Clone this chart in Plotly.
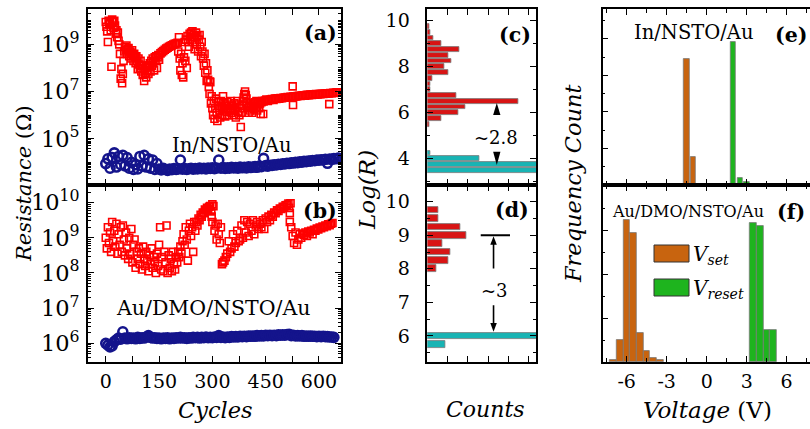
import plotly.graph_objects as go

FONT = "DejaVu Serif"

# ---------------- panel (a): In/NSTO/Au resistance vs cycles ----------------
hrs_a_cycles = [0, 2, 4, 6, 8, 10, 12, 14, 16, 18, 20, 22, 24, 26, 28, 30, 32, 34, 36, 38,
                40, 42, 44, 46, 48, 50, 52, 54, 56, 58, 60, 62, 64, 66, 68, 70, 72, 74, 76, 78,
                80, 82, 84, 86, 88, 90, 92, 94, 96, 98, 100, 102, 104, 106, 108, 110, 112, 114, 116, 118,
                120, 122, 124, 126, 128, 130, 132, 134, 136, 138, 140, 142, 144, 146, 148, 150,
                154, 158, 162, 166, 170, 174, 178, 182, 186, 190, 194, 198, 202,
                204, 206, 208, 210, 212, 214, 216, 218, 220, 222, 224, 226, 228, 230, 232, 234, 236, 238,
                240, 242, 244, 246, 248, 250, 252, 254, 256, 258, 260, 262, 264, 266, 268, 270, 272, 274,
                276, 278, 280, 282, 284, 286, 288, 290, 292, 294, 296, 298, 300, 302, 304, 306, 308, 310,
                312, 314, 316, 318, 320, 322, 324, 326, 328, 330, 332, 334, 336, 338, 340, 342, 344, 346,
                348, 350, 352, 354, 356, 358, 360, 362, 364, 366, 368, 370, 372, 374, 376, 378, 380, 382,
                384, 386, 388, 390, 392, 394, 396, 398, 400, 402, 404, 406, 408, 410, 412, 414, 416, 418,
                420, 422, 424, 426, 428, 430, 432, 434, 436, 438, 440,
                444, 448, 452, 456, 460, 464, 468, 472, 476, 480, 484, 488, 492, 496, 500, 504, 508, 512,
                516, 520, 524, 528, 532, 536, 540, 544, 548, 552, 556, 560, 564, 568, 572, 576, 580, 584,
                588, 592, 596, 600, 604, 608, 612, 616, 620, 624, 628, 632, 636, 640, 644, 648, 652,
                526, 527, 629, 443, 293]
hrs_a_log = [9.95, 9.75, 9.55, 9.1, 10.0, 9.85, 9.9, 9.6, 8.05, 10.05, 9.95, 9.7, 10.0, 9.8, 9.45, 9.6, 9.3, 9.5, 9.15, 9.0,
             8.6, 7.55, 7.95, 7.35, 7.75, 8.3, 8.7, 8.9, 8.75, 8.95, 8.6, 8.8, 8.85, 8.5, 8.7, 8.65, 8.4, 8.75, 8.55, 8.3,
             8.6, 8.45, 8.2, 8.5, 8.3, 7.95, 8.4, 8.15, 8.0, 8.3, 7.85, 8.1, 7.7, 7.95, 7.45, 7.8, 8.0, 7.6, 7.9, 8.1,
             7.75, 8.05, 8.2, 7.85, 8.3, 8.1, 8.4, 8.25, 7.9, 8.45, 8.3, 8.5, 8.0, 8.45, 8.55, 8.35,
             8.62, 8.67, 8.72, 8.77, 8.82, 8.86, 8.9, 8.93, 8.96, 8.99, 9.02, 9.04, 9.07,
             8.7, 9.3, 8.4, 7.9, 8.6, 7.7, 8.2, 7.6, 8.45, 9.1, 8.3, 9.2, 8.0, 9.35, 9.1, 8.9, 9.45, 9.2,
             9.5, 9.3, 9.55, 9.1, 9.4, 8.8, 9.3, 9.5, 9.0, 9.35, 8.7, 9.2, 9.4, 8.9, 8.5, 9.1, 8.7, 8.4,
             8.1, 8.6, 7.8, 8.2, 7.45, 7.9, 7.5, 7.2, 6.9, 7.4, 6.5, 6.8, 6.3, 6.0, 6.6, 5.85, 6.3, 6.7,
             6.1, 5.75, 6.4, 6.55, 6.2, 5.9, 6.6, 6.35, 6.0, 6.8, 6.25, 6.5, 5.95, 6.4, 6.15, 6.55, 6.3, 6.0,
             6.45, 6.2, 6.6, 6.1, 6.4, 6.25, 6.0, 6.5, 6.2, 5.9, 6.35, 6.6, 6.15, 6.45, 6.0, 6.3, 5.5, 6.1,
             6.4, 6.6, 6.75, 6.9, 7.0, 6.85, 6.7, 6.5, 6.3, 6.1, 6.35, 6.2, 6.45, 6.3, 6.1, 6.4, 6.5, 6.25,
             6.55, 6.35, 6.6, 6.2, 6.45, 6.55, 6.3, 6.5, 6.05, 6.55, 6.6,
             6.58, 6.62, 6.66, 6.6, 6.64, 6.66, 6.68, 6.65, 6.7, 6.69, 6.71, 6.7, 6.73, 6.72, 6.74, 6.75, 6.74, 6.77,
             6.76, 6.78, 6.77, 6.79, 6.8, 6.79, 6.81, 6.82, 6.81, 6.83, 6.84, 6.83, 6.85, 6.86, 6.85, 6.87, 6.86, 6.88,
             6.87, 6.89, 6.88, 6.9, 6.89, 6.91, 6.9, 6.92, 6.91, 6.93, 6.92, 6.94, 6.93, 6.95, 6.94, 6.96, 6.97,
             7.22, 6.43, 6.47, 6.05, 7.42]

lrs_a_cycles = [0, 6, 12, 18, 24, 30, 36, 42, 48, 54, 60, 66, 72, 78, 84, 90, 96, 102, 108, 114,
                120, 126, 132, 138, 144, 150, 156, 162, 168, 174, 180, 186, 192, 198, 204, 210, 216, 222, 228, 234,
                240, 246, 252, 258, 264, 270, 276, 282, 288, 294, 300, 306, 312, 318, 324, 330, 336, 342, 348, 354,
                360, 366, 372, 378, 384, 390, 396, 402, 408, 414, 420, 426, 432, 438, 444, 450, 456, 462, 468, 474,
                480, 486, 492, 498, 504, 510, 516, 522, 528, 534, 540, 546, 552, 558, 564, 570, 576, 582, 588, 594,
                600, 606, 612, 618, 624, 630, 636, 642, 648, 654]
lrs_a_log = [3.95, 4.15, 3.75, 4.2, 4.4, 3.8, 4.25, 3.9, 4.3, 3.85, 4.2, 3.75, 4.0, 3.7, 3.9, 3.72, 4.25, 3.85, 4.3, 3.8,
             4.15, 3.75, 4.1, 3.7, 3.95, 3.72, 3.68, 3.75, 3.7, 3.66, 3.72, 3.69, 3.74, 3.7, 3.72, 4.1, 3.71, 3.74, 3.7, 3.73,
             3.75, 3.71, 3.74, 3.72, 3.76, 3.73, 3.75, 3.72, 3.76, 3.74, 3.77, 3.73, 3.76, 4.1, 3.75, 3.78, 3.74, 3.77, 3.75, 3.79,
             3.76, 3.78, 3.75, 3.8, 3.77, 3.79, 3.76, 3.81, 3.78, 3.8, 3.82, 3.79, 3.84, 3.82, 4.17, 3.86, 3.84, 3.88, 3.87, 3.9,
             3.89, 3.92, 3.91, 3.94, 3.93, 3.96, 3.95, 3.98, 3.97, 4.0, 3.99, 4.02, 4.01, 4.04, 4.03, 4.06, 4.05, 4.08, 4.07, 4.1,
             4.09, 4.11, 4.1, 4.13, 3.96, 4.14, 4.13, 4.16, 4.15, 4.18]

# ---------------- panel (b): Au/DMO/NSTO/Au resistance vs cycles ----------------
hrs_b_cycles = [0, 3, 6, 9, 12, 15, 18, 21, 24, 27, 30, 33, 36, 39, 42, 45, 48, 51, 54, 57,
                60, 63, 66, 69, 72, 75, 78, 81, 84, 87, 90, 93, 96, 99, 102, 105, 108, 111, 114, 117,
                120, 123, 126, 129, 132, 135, 138, 141, 144, 147, 150, 153, 156, 159, 162, 165, 168, 171, 174, 177,
                180, 183, 186, 189, 192, 195, 198, 201, 204, 207, 210, 213, 216, 219, 222, 225, 228, 231, 234, 237,
                240, 243, 246, 249, 252, 255, 258, 261, 264, 267, 270, 273, 276, 279, 282, 285, 288, 291, 294, 297,
                300, 303, 306, 309, 312, 315, 318, 321, 324, 327, 330,
                334, 338, 342, 346, 350, 354, 358, 362, 366, 370, 374, 378, 382, 386, 390, 394, 398, 402, 406, 410,
                414, 418, 422, 426, 430, 434, 438, 442, 446, 450, 454, 458, 462, 466, 470, 474, 478, 482, 486, 490,
                494, 498, 502, 506, 510, 514, 518, 522, 526, 530, 534, 538, 542, 546, 550, 554, 558, 562, 566, 570,
                574, 578, 582, 586, 590, 594, 598, 602, 606, 610, 614, 618, 622, 626, 630, 634, 638,
                516, 518, 520, 298, 300]
hrs_b_log = [9.0, 8.7, 9.3, 8.85, 9.15, 8.6, 9.45, 8.9, 9.2, 8.75, 9.4, 8.55, 9.1, 8.8, 9.3, 8.6, 9.35, 8.95, 8.5, 9.15,
             8.7, 8.4, 9.0, 8.55, 9.25, 8.3, 8.8, 8.95, 8.15, 8.6, 8.4, 8.7, 8.25, 8.55, 8.1, 8.75, 8.4, 8.2, 8.6, 8.35,
             8.05, 8.5, 8.25, 8.7, 8.15, 8.45, 8.3, 8.0, 8.55, 8.2, 8.8, 9.3, 8.1, 8.45, 8.05, 8.6, 8.3, 9.35, 8.0, 8.5,
             8.15, 8.4, 8.05, 8.6, 8.25, 8.1, 8.45, 8.3, 8.6, 8.45, 8.75, 8.55, 8.9, 9.1, 8.8, 9.3, 8.95, 8.35, 9.2, 9.4,
             9.05, 9.3, 8.6, 9.45, 9.2, 9.45, 9.35, 9.55, 9.5, 9.65, 9.6, 9.72, 9.7, 9.8, 9.78, 9.85, 9.83, 9.88, 9.9, 9.75,
             9.45, 9.9, 9.2, 9.35, 8.95, 9.4, 9.1, 8.85, 9.3, 8.25, 8.3,
             8.35, 8.45, 8.55, 8.9, 8.6, 8.7, 9.1, 8.75, 8.85, 9.2, 8.9, 8.95, 9.35, 9.0, 9.5, 9.15, 9.45, 9.05, 9.4, 9.2,
             9.5, 9.1, 9.35, 9.45, 9.25, 9.4, 9.3, 9.5, 9.25, 9.55, 9.45, 9.6, 9.5, 9.65, 9.6, 9.72, 9.7, 9.78, 9.76, 9.83,
             9.82, 9.88, 9.87, 9.92, 9.93, 9.97, 9.7, 9.3, 9.05, 8.85, 9.15, 8.8, 8.95, 9.1, 9.0, 9.12, 9.08, 9.15, 9.05, 9.18,
             9.15, 9.2, 9.1, 9.23, 9.2, 9.26, 9.24, 9.29, 9.27, 9.32, 9.3, 9.35, 9.33, 9.38, 9.36, 9.4, 9.42,
             9.85, 9.45, 9.98, 9.6, 9.95]

lrs_b_cycles = [0, 6, 12, 18, 24, 30, 36, 42, 48, 54, 60, 66, 72, 78, 84, 90, 96, 102, 108, 114,
                120, 126, 132, 138, 144, 150, 156, 162, 168, 174, 180, 186, 192, 198, 204, 210, 216, 222, 228, 234,
                240, 246, 252, 258, 264, 270, 276, 282, 288, 294, 300, 306, 312, 318, 324, 330, 336, 342, 348, 354,
                360, 366, 372, 378, 384, 390, 396, 402, 408, 414, 420, 426, 432, 438, 444, 450, 456, 462, 468, 474,
                480, 486, 492, 498, 504, 510, 516, 522, 528, 534, 540, 546, 552, 558, 564, 570, 576, 582, 588, 594,
                600, 606, 612, 618, 624, 630, 636, 642]
lrs_b_log = [6.0, 5.95, 5.9, 5.93, 6.05, 6.1, 6.15, 6.12, 6.33, 6.15, 6.13, 6.16, 6.14, 6.15, 6.13, 6.17, 6.14, 6.16, 6.15, 6.18,
             6.22, 6.17, 6.15, 6.16, 6.14, 6.15, 6.13, 6.15, 6.14, 6.16, 6.13, 6.15, 6.14, 6.16, 6.15, 6.17, 6.15, 6.16, 6.14, 6.16,
             6.15, 6.17, 6.16, 6.17, 6.15, 6.17, 6.16, 6.18, 6.16, 6.17, 6.16, 6.18, 6.17, 6.22, 6.17, 6.18, 6.16, 6.18, 6.17, 6.19,
             6.18, 6.19, 6.18, 6.2, 6.19, 6.2, 6.19, 6.21, 6.2, 6.21, 6.2, 6.22, 6.21, 6.22, 6.21, 6.23, 6.22, 6.23, 6.22, 6.23,
             6.22, 6.24, 6.23, 6.24, 6.23, 6.25, 6.26, 6.22, 6.23, 6.21, 6.22, 6.21, 6.22, 6.2, 6.21, 6.2, 6.21, 6.2, 6.2, 6.19,
             6.2, 6.19, 6.2, 6.19, 6.19, 6.18, 6.18, 6.17]

for a, b in [(hrs_a_cycles, hrs_a_log), (lrs_a_cycles, lrs_a_log), (hrs_b_cycles, hrs_b_log), (lrs_b_cycles, lrs_b_log)]:
    assert len(a) == len(b), (len(a), len(b))

# ---------------- panels (c), (d): Log(R) histograms ----------------
c_hrs_bins = [9.75, 9.5, 9.25, 9.0, 8.75, 8.5, 8.25, 8.0, 7.75, 7.5, 7.25, 7.0, 6.75, 6.5, 6.25, 6.0, 5.75, 5.5]
c_hrs_counts = [1.0, 1.3, 3.0, 7.1, 15.8, 10.5, 11.8, 8.5, 10.5, 2.3, 1.6, 1.3, 14.4, 44.7, 18.7, 15.4, 6.9, 1.0]
c_lrs_bins = [4.25, 4.0, 3.75, 3.5]
c_lrs_counts = [1.3, 25.6, 80.0, 80.0]

d_hrs_bins = [9.75, 9.5, 9.25, 9.0, 8.75, 8.5, 8.25, 8.0]
d_hrs_counts = [5.4, 5.4, 16.3, 19.4, 7.2, 11.5, 10.5, 4.6]
d_lrs_bins = [6.0, 5.75]
d_lrs_counts = [80.0, 9.0]

# ---------------- panels (e), (f): switching-voltage histograms ----------------
e_set_v = [-1.5, -1.0]
e_set_n = [69.0, 15.2]
e_reset_v = [1.5, 2.0, 2.5, 3.0]
e_reset_n = [0.7, 78.4, 3.8, 1.6]

f_set_v = [-7.0, -6.5, -6.0, -5.5, -5.0, -4.5, -4.0, -3.5]
f_set_n = [0.4, 4.9, 32.4, 29.3, 6.5, 2.4, 0.8, 0.4]
f_reset_v = [3.5, 4.0, 4.5, 5.0]
f_reset_n = [31.6, 30.9, 7.2, 7.2]

volt_tick_vals = [-6, -3, 0, 3, 6]
volt_tick_text = ["-6", "-3", "0", "3", "6"]

# ---------------- colours ----------------
RED = "#ff0000"
NAVY = "#14148c"
HIST_RED = "#d81414"
HIST_CYAN = "#18b4b4"
ORANGE = "#c8640f"
GREEN = "#1eb41e"
BAR_EDGE = "#7a7a7a"

W, H = 810, 429
def fx(p):
    return p / W
def fy(p):
    return 1 - p / H

fig = go.Figure()

fig.add_trace(go.Scatter(x=hrs_a_cycles, y=[10 ** v for v in hrs_a_log], mode="markers",
                         marker=dict(symbol="square-open", size=7, color=RED, line=dict(width=1.6)),
                         xaxis="x", yaxis="y"))
fig.add_trace(go.Scatter(x=lrs_a_cycles, y=[10 ** v for v in lrs_a_log], mode="markers",
                         marker=dict(symbol="circle-open", size=9, color=NAVY, line=dict(width=2.6)),
                         xaxis="x", yaxis="y"))
fig.add_trace(go.Scatter(x=hrs_b_cycles, y=[10 ** v for v in hrs_b_log], mode="markers",
                         marker=dict(symbol="square-open", size=7, color=RED, line=dict(width=1.6)),
                         xaxis="x2", yaxis="y2"))
fig.add_trace(go.Scatter(x=lrs_b_cycles, y=[10 ** v for v in lrs_b_log], mode="markers",
                         marker=dict(symbol="circle-open", size=9, color=NAVY, line=dict(width=2.6)),
                         xaxis="x2", yaxis="y2"))

def hbar(counts, bins, color, xa, ya, width):
    return go.Bar(x=counts, y=bins, orientation="h", width=width, xaxis=xa, yaxis=ya,
                  marker=dict(color=color, line=dict(color=BAR_EDGE, width=0.8)))

fig.add_trace(hbar(c_hrs_counts, c_hrs_bins, HIST_RED, "x3", "y3", 0.21))
fig.add_trace(hbar(c_lrs_counts, c_lrs_bins, HIST_CYAN, "x3", "y3", 0.21))
fig.add_trace(hbar(d_hrs_counts, d_hrs_bins, HIST_RED, "x4", "y4", 0.2))
fig.add_trace(hbar(d_lrs_counts, d_lrs_bins, HIST_CYAN, "x4", "y4", 0.2))

def vbar(v, n, color, xa, ya, width):
    return go.Bar(x=v, y=n, width=width, xaxis=xa, yaxis=ya,
                  marker=dict(color=color, line=dict(color=BAR_EDGE, width=0.8)))

fig.add_trace(vbar(e_set_v, e_set_n, ORANGE, "x5", "y5", 0.42))
fig.add_trace(vbar(e_reset_v, e_reset_n, GREEN, "x5", "y5", 0.42))
fig.add_trace(vbar(f_set_v, f_set_n, ORANGE, "x6", "y6", 0.5))
fig.add_trace(vbar(f_reset_v, f_reset_n, GREEN, "x6", "y6", 0.5))

common = dict(showline=True, linecolor="black", linewidth=1.5, mirror="ticks", ticks="inside",
              ticklen=6, tickwidth=1.2, tickcolor="black", showgrid=False, zeroline=False,
              tickfont=dict(family=FONT, size=19, color="black"))

top = [fy(185), fy(9)]
bot = [fy(362), fy(185)]
dom_ab = [fx(88), fx(341)]
dom_cd = [fx(427.3), fx(536)]
dom_ef = [fx(602.7), 1.0]

cyc_minor = dict(ticks="inside", ticklen=6, dtick=75, tickcolor="black")

layout_axes = dict(
    xaxis=dict(common, domain=dom_ab, anchor="y", range=[-50, 662], dtick=150, tick0=0,
               showticklabels=False, minor=cyc_minor),
    xaxis2=dict(common, domain=dom_ab, anchor="y2", range=[-50, 662], dtick=150, tick0=0,
                ticklabelstandoff=1, minor=cyc_minor),
    yaxis=dict(common, domain=top, anchor="x", type="log", range=[3.04, 10.5], tick0=1, dtick=2,
               exponentformat="power", ticklabelstandoff=3, tickfont=dict(family=FONT, size=18, color="black"),
               minor=dict(ticks="inside", ticklen=3, dtick="D1", tickcolor="black")),
    yaxis2=dict(common, domain=bot, anchor="x2", type="log", range=[5.47, 10.5], dtick=1,
                exponentformat="power", ticklabelstandoff=3, tickfont=dict(family=FONT, size=18, color="black"),
                minor=dict(ticks="inside", ticklen=3, dtick="D1", tickcolor="black")),
    xaxis3=dict(common, domain=dom_cd, anchor="y3", range=[0, 53.5], dtick=10, showticklabels=False),
    yaxis3=dict(common, domain=top, anchor="x3", range=[2.86, 10.51], dtick=2, tick0=0,
                ticklabelstandoff=12, minor=dict(ticks="inside", ticklen=3, dtick=1, tickcolor="black")),
    xaxis4=dict(common, domain=dom_cd, anchor="y4", range=[0, 53.5], dtick=10, showticklabels=False),
    yaxis4=dict(common, domain=bot, anchor="x4", range=[5.22, 10.5], dtick=1, tick0=0,
                ticklabelstandoff=12, minor=dict(ticks="inside", ticklen=3, dtick=0.5, tickcolor="black")),
    xaxis5=dict(common, domain=dom_ef, anchor="y5", range=[-7.8, 7.75], tickvals=volt_tick_vals,
                showticklabels=False, minor=dict(ticks="inside", ticklen=4, dtick=1.5, tickcolor="black")),
    yaxis5=dict(common, domain=top, anchor="x5", range=[0, 96.4], dtick=20, mirror=False,
                showticklabels=False, minor=dict(ticks="inside", ticklen=3, dtick=10, tickcolor="black")),
    xaxis6=dict(common, domain=dom_ef, anchor="y6", range=[-7.8, 7.75], tickvals=volt_tick_vals,
                ticktext=volt_tick_text, ticklabelstandoff=1,
                minor=dict(ticks="inside", ticklen=4, dtick=1.5, tickcolor="black")),
    yaxis6=dict(common, domain=bot, anchor="x6", range=[0, 40.25], dtick=10, mirror=False,
                showticklabels=False, minor=dict(ticks="inside", ticklen=3, dtick=5, tickcolor="black")),
)

def pann(text, x, y, size, angle=0, bold=False, xanchor="center"):
    return dict(text=("<b>%s</b>" % text) if bold else text, x=fx(x), y=fy(y), xref="paper", yref="paper",
                showarrow=False, textangle=angle, xanchor=xanchor, yanchor="middle",
                font=dict(family=FONT, size=size, color="black"))

annotations = [
    pann("<i>Resistance</i> (Ω)", 24, 184, 21, angle=-90),
    pann("<i>Log(R)</i>", 367, 190, 23, angle=-90),
    pann("<i>Frequency Count</i>", 573, 183, 22.5, angle=-90),
    pann("<i>Cycles</i>", 215, 410, 22.5),
    pann("<i>Counts</i>", 485, 409, 22),
    pann("<i>Voltage</i> (V)", 707, 410, 23),
    pann("(a)", 320, 33, 20.5, bold=True),
    pann("(b)", 320, 211, 20.5, bold=True),
    pann("(c)", 515, 35, 20.5, bold=True),
    pann("(d)", 512, 210, 20.5, bold=True),
    pann("(e)", 791, 35, 20.5, bold=True),
    pann("(f)", 791, 212, 20.5, bold=True),
    pann("In/NSTO/Au", 231, 145, 19.5),
    pann("Au/DMO/NSTO/Au", 213, 308, 20.5),
    pann("In/NSTO/Au", 693, 33, 19.5),
    pann("Au/DMO/NSTO/Au", 688, 212, 16),
    pann("<i>V</i><sub><i>set</i></sub>", 691, 255, 20, xanchor="left"),
    pann("<i>V</i><sub><i>reset</i></sub>", 691, 289, 20, xanchor="left"),
    dict(text="~2.8", x=33.9, y=4.92, xref="x3", yref="y3", showarrow=False,
         font=dict(family=FONT, size=18, color="black")),
    dict(text="~3", x=33.3, y=7.36, xref="x4", yref="y4", showarrow=False,
         font=dict(family=FONT, size=18, color="black")),
]

shapes = [
    # arrowheads marking the HRS/LRS gap in (c)
    dict(type="path", path="M 32.4,5.9 L 36.0,5.9 L 34.2,6.42 Z", xref="x3", yref="y3",
         fillcolor="black", line=dict(width=0)),
    dict(type="path", path="M 32.4,4.3 L 36.0,4.3 L 34.2,3.73 Z", xref="x3", yref="y3",
         fillcolor="black", line=dict(width=0)),
    # marker line and arrows in (d)
    dict(type="line", x0=26.3, x1=40.7, y0=9.0, y1=9.0, xref="x4", yref="y4",
         line=dict(color="black", width=2)),
    dict(type="line", x0=32.6, x1=32.6, y0=8.01, y1=8.75, xref="x4", yref="y4",
         line=dict(color="black", width=1.6)),
    dict(type="path", path="M 31.0,8.72 L 34.2,8.72 L 32.6,8.97 Z", xref="x4", yref="y4",
         fillcolor="black", line=dict(width=0)),
    dict(type="line", x0=32.6, x1=32.6, y0=6.91, y1=6.36, xref="x4", yref="y4",
         line=dict(color="black", width=1.6)),
    dict(type="path", path="M 31.0,6.38 L 34.2,6.38 L 32.6,6.12 Z", xref="x4", yref="y4",
         fillcolor="black", line=dict(width=0)),
    # legend swatches in (f)
    dict(type="rect", x0=fx(654), x1=fx(689), y0=fy(262), y1=fy(245), xref="paper", yref="paper",
         fillcolor=ORANGE, line=dict(color="#333333", width=1)),
    dict(type="rect", x0=fx(654), x1=fx(689), y0=fy(296), y1=fy(279), xref="paper", yref="paper",
         fillcolor=GREEN, line=dict(color="#333333", width=1)),
]

fig.update_layout(
    width=W, height=H, margin=dict(l=0, r=0, t=0, b=0),
    paper_bgcolor="white", plot_bgcolor="white", showlegend=False,
    bargap=0, barmode="overlay",
    font=dict(family=FONT, color="black"),
    annotations=annotations, shapes=shapes,
    **layout_axes,
)

fig.write_html("out.html")
